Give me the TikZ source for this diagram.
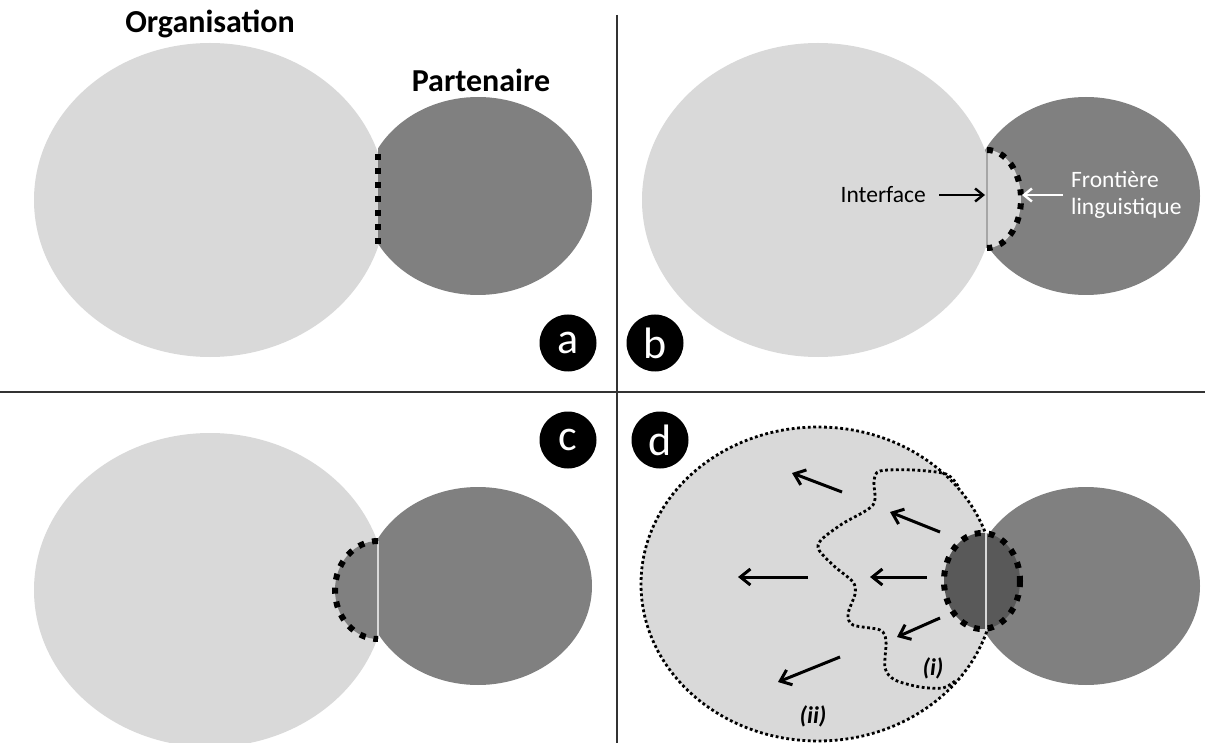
\documentclass[tikz,border=0pt]{standalone}
\usepackage{fontspec}
\setmainfont{Carlito}
\usetikzlibrary{arrows.meta}
\definecolor{lightg}{HTML}{D9D9D9}
\definecolor{darkg}{HTML}{808080}
\definecolor{lensg}{HTML}{595959}
\definecolor{ifline}{HTML}{A6A6A6}
\begin{document}
\begin{tikzpicture}[x=1pt,y=-1pt,
  bigdots/.style={line width=6pt, dash pattern=on 6pt off 8pt},
  smalldots/.style={line width=2.8pt, dash pattern=on 2.8pt off 2.6pt},
  sepline/.style={line width=1.4pt, black!80},
  arr/.style={line width=3pt, -{Straight Barb[length=10pt,width=16pt]}},
  arrsmall/.style={line width=2.4pt, -{Straight Barb[length=8pt,width=13pt]}},
  lab/.style={circle, fill=black, minimum size=57pt, inner sep=0pt, text=white, font=\fontsize{44}{44}\selectfont},
  titletxt/.style={font=\fontsize{32}{32}\selectfont\bfseries},
  smalltxt/.style={font=\fontsize{23.5}{27}\selectfont},
  romtxt/.style={font=\fontsize{24}{24}\selectfont\bfseries\itshape},
]
\useasboundingbox (0,0) rectangle (1205,743);
\fill[white] (0,0) rectangle (1205,743);

% ---------- panel a ----------
\fill[lightg] (210,200) ellipse[x radius=176, y radius=157];
\begin{scope}
  \clip (378,0) rectangle (617,392);
  \fill[darkg] (478,196) ellipse[x radius=114, y radius=99];
\end{scope}
\draw[bigdots] (378,154) -- (378,246);
\node[titletxt] (org) at (210,24) {Organisation};
\node[titletxt] (part) at (481,80) {Partenaire};

% ---------- panel b ----------
\fill[darkg] (1086,196) ellipse[x radius=114, y radius=99];
\fill[lightg] (818,200) ellipse[x radius=176, y radius=157];
\fill[lightg] (987,150) arc[start angle=-90, end angle=90, x radius=34, y radius=49] -- cycle;
\draw[line width=1.3pt, ifline] (987,150) -- (987,248);
\draw[bigdots] (987,150) arc[start angle=-90, end angle=90, x radius=34, y radius=49];
\node[smalltxt, anchor=east, inner sep=0pt] (intf) at (926,195) {Interface};
\coordinate (intftip) at (985,195);
\draw[arrsmall] ([xshift=13pt]intf.east) -- (intftip);
\node[smalltxt, anchor=west, inner sep=0pt, align=left, text=white] (front) at (1071,195) {Frontière\\linguistique};
\coordinate (fronttip) at (1022,195);
\draw[arrsmall, white] ([xshift=-8pt]front.west) -- (fronttip);

% ---------- panel c ----------
\fill[lightg] (210,590) ellipse[x radius=176, y radius=157];
\begin{scope}
  \clip (378,392) rectangle (617,743);
  \fill[darkg] (478,586) ellipse[x radius=114, y radius=99];
\end{scope}
\fill[darkg] (378,541) arc[start angle=-90, end angle=-270, x radius=43, y radius=49] -- cycle;
\draw[line width=1.3pt, lightg] (378,541) -- (378,639);
\draw[bigdots] (378,541) arc[start angle=-90, end angle=-270, x radius=43, y radius=49];

% ---------- panel d ----------
\fill[darkg] (1086,586) ellipse[x radius=114, y radius=99];
\fill[lightg] (818,584) ellipse[x radius=177, y radius=157];
\draw[smalldots] (818,584) ellipse[x radius=177, y radius=157];
\fill[lensg] (982,581) ellipse[x radius=38, y radius=48];
\draw[line width=1.3pt, lightg] (986,533) -- (986,629);
\draw[bigdots] (982,581) ellipse[x radius=38, y radius=48];
\draw[smalldots] plot[smooth, tension=0.5] coordinates {
  (958,486) (946,474) (913,470) (880,471) (874,481) (873,505) (842,524)
  (821,540) (819,550) (834,566) (853,582) (855,594) (848,614) (853,625)
  (880,630) (886,641) (885,668) (895,680) (920,687) (943,688) (955,681)};
\coordinate (a1s) at (842,492); \coordinate (a1e) at (792,473);
\coordinate (a2s) at (940,532); \coordinate (a2e) at (890,512);
\coordinate (a3s) at (808,577); \coordinate (a3e) at (738,577);
\coordinate (a4s) at (927,577); \coordinate (a4e) at (870,577);
\coordinate (a5s) at (940,618); \coordinate (a5e) at (897,637);
\coordinate (a6s) at (840,657); \coordinate (a6e) at (778,682);
\foreach \i in {1,...,6} {\draw[arr] (a\i s) -- (a\i e);}
\node[romtxt] (ri) at (933,668) {(i)};
\node[romtxt] (rii) at (813,716) {(ii)};

% ---------- separators ----------
\coordinate (vtop) at (617,15);
\coordinate (vbot) at (617,743);
\coordinate (hl) at (0,392);
\coordinate (hr) at (1205,392);
\draw[sepline] (vtop) -- (vbot);
\draw[sepline] (hl) -- (hr);

% ---------- panel labels ----------
\node[lab] (la) at (568,343) {a};
\node[lab] (lb) at (655,343) {b};
\node[lab] (lc) at (568,440) {c};
\node[lab] (ld) at (660,440) {d};
\end{tikzpicture}
\end{document}
